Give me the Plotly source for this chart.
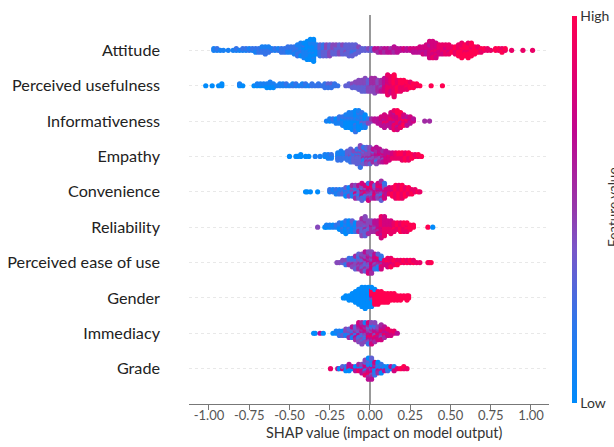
import plotly.graph_objects as go

features = ["Attitude", "Perceived usefulness", "Informativeness", "Empathy", "Convenience",
            "Reliability", "Perceived ease of use", "Gender", "Immediacy", "Grade"]
tick_values = [-1.0, -0.75, -0.5, -0.25, 0.0, 0.25, 0.5, 0.75, 1.0]
tick_labels = ["-1.00", "-0.75", "-0.50", "-0.25", "0.00", "0.25", "0.50", "0.75", "1.00"]

# Each entry: (SHAP value, one digit per dot = feature value level 0 (low) .. 9 (high))
attitude = [(-0.97,"11"),(-0.95,"12"),(-0.93,"1"),(-0.91,"1"),(-0.88,"1"),(-0.85,"1"),(-0.83,"12"),(-0.81,"1"),
    (-0.79,"12"),(-0.77,"12"),(-0.75,"21"),(-0.73,"12"),(-0.71,"121"),(-0.69,"122"),(-0.67,"1221"),
    (-0.65,"12212"),(-0.63,"1221"),(-0.61,"21"),(-0.59,"12"),(-0.57,"21"),(-0.55,"122"),(-0.53,"122"),
    (-0.51,"1212"),(-0.49,"1212"),(-0.47,"12221"),(-0.45,"1212212"),(-0.43,"11212101"),
    (-0.41,"101012101"),(-0.39,"00101010100"),(-0.37,"010010010100"),(-0.35,"0100100101100"),
    (-0.33,"010101"),(-0.31,"2323232"),(-0.29,"3232323"),(-0.27,"3434343"),(-0.25,"3343434"),
    (-0.23,"343434"),(-0.21,"433334"),(-0.19,"334343"),(-0.17,"333334"),(-0.15,"334333"),
    (-0.13,"2333333"),(-0.11,"3323233"),(-0.09,"332333"),(-0.07,"3334"),(-0.05,"33"),(-0.03,"33"),
    (-0.01,"34"),(0.01,"33"),(0.03,"56"),(0.05,"565"),(0.07,"656"),(0.09,"565"),(0.11,"566"),(0.13,"656"),
    (0.15,"5656"),(0.17,"666"),(0.19,"66"),(0.21,"67"),(0.23,"66"),(0.25,"67"),(0.27,"676"),(0.29,"676"),
    (0.31,"7767"),(0.33,"77677"),(0.35,"776767"),(0.37,"6777767677"),(0.39,"7787777787"),
    (0.41,"788777877"),(0.43,"787878"),(0.45,"788878"),(0.47,"878788"),(0.49,"887888"),
    (0.51,"8898"),(0.53,"89898"),(0.55,"8898989"),(0.57,"989998989"),(0.59,"9989999"),
    (0.61,"998999989"),(0.63,"99989999"),(0.65,"99999"),(0.67,"9998"),(0.69,"898"),(0.71,"89"),
    (0.73,"88"),(0.75,"8"),(0.78,"99"),(0.8,"89"),(0.82,"989"),(0.84,"89"),(0.88,"8"),(0.95,"8"),(1.01,"8")]

usefulness = [(-1.02,"0"),(-0.98,"0"),(-0.94,"0"),(-0.92,"00"),(-0.81,"01"),(-0.79,"0"),(-0.72,"0"),(-0.7,"01"),
    (-0.68,"01"),(-0.66,"01"),(-0.64,"010"),(-0.62,"0101"),(-0.6,"010"),(-0.58,"1"),(-0.56,"11"),
    (-0.54,"11"),(-0.52,"12"),(-0.5,"1"),(-0.48,"21"),(-0.46,"12"),(-0.44,"1"),(-0.42,"21"),(-0.4,"12"),
    (-0.38,"1"),(-0.36,"22"),(-0.34,"2"),(-0.32,"22"),(-0.3,"2"),(-0.28,"222"),(-0.26,"232"),(-0.24,"232"),
    (-0.22,"22"),(-0.2,"2"),(-0.15,"3"),(-0.13,"33"),(-0.11,"343"),(-0.09,"3334"),(-0.07,"343434"),
    (-0.05,"3434343"),(-0.03,"34343434"),(-0.01,"4343434"),(0.01,"45454545"),(0.03,"454545454"),
    (0.05,"5454545"),(0.07,"4545556"),(0.09,"56767676"),(0.11,"788787878788"),(0.13,"8788887878"),
    (0.15,"8989898989898"),(0.17,"9898989"),(0.19,"8989898"),(0.21,"898989"),(0.23,"98998"),(0.25,"8998"),
    (0.27,"899"),(0.29,"89"),(0.31,"9"),(0.38,"9"),(0.45,"9")]

informativeness = [(-0.27,"1"),(-0.25,"01"),(-0.23,"12"),(-0.21,"101"),(-0.19,"1212"),(-0.17,"10121"),
    (-0.15,"0102010"),(-0.13,"01020101"),(-0.11,"010201010"),(-0.09,"01012010102"),(-0.07,"0201010201"),
    (-0.05,"21320102"),(-0.03,"2030201"),(-0.01,"324"),(0.01,"45"),(0.03,"66"),(0.05,"566"),(0.07,"67676"),
    (0.09,"7687676"),(0.11,"67876"),(0.13,"78686767"),(0.15,"7867878688"),(0.17,"8787876979"),
    (0.19,"98687989"),(0.21,"798697"),(0.23,"79866"),(0.25,"6767"),(0.27,"76"),(0.34,"5"),(0.37,"5")]

empathy = [(-0.5,"0"),(-0.46,"0"),(-0.45,"0"),(-0.43,"00"),(-0.4,"0"),(-0.38,"0"),(-0.34,"1"),(-0.31,"1"),
    (-0.28,"01"),(-0.26,"011"),(-0.24,"121"),(-0.2,"01212"),(-0.18,"212121"),(-0.16,"2121"),(-0.14,"232323"),
    (-0.12,"34232323"),(-0.1,"3232343"),(-0.08,"343234323"),(-0.06,"3432343234342"),(-0.04,"3454231432"),
    (-0.02,"3454345243"),(0,"5454345434"),(0.02,"56454356"),(0.04,"4656452546"),(0.06,"56474656"),
    (0.08,"6567456"),(0.1,"7676767"),(0.12,"78767"),(0.14,"8787"),(0.16,"7888"),(0.18,"8989"),(0.2,"89898"),
    (0.22,"98989"),(0.24,"99898"),(0.26,"899"),(0.28,"98"),(0.3,"89"),(0.32,"9")]

convenience = [(-0.4,"0"),(-0.39,"0"),(-0.37,"0"),(-0.325,"0"),(-0.25,"12"),(-0.23,"21"),(-0.21,"121"),
    (-0.19,"012"),(-0.17,"123"),(-0.15,"01230"),(-0.13,"32104"),(-0.11,"342315"),(-0.09,"4371345"),
    (-0.07,"5234163"),(-0.05,"475364273"),(-0.03,"5684372"),(-0.01,"465738527"),(0.01,"65473857"),
    (0.03,"5674836"),(0.05,"47563847"),(0.07,"5647285735"),(0.09,"76548372"),(0.1,"876"),(0.12,"6787"),
    (0.14,"87989"),(0.16,"8989898"),(0.18,"9898989"),(0.2,"8989898"),(0.22,"98989"),(0.24,"8989"),
    (0.26,"989"),(0.28,"88"),(0.3,"9"),(0.31,"8")]

reliability = [(-0.325,"4"),(-0.28,"0"),(-0.27,"01"),(-0.25,"01"),(-0.23,"10"),(-0.21,"12"),(-0.19,"0102"),
    (-0.17,"10201"),(-0.15,"0201020"),(-0.13,"102010"),(-0.11,"010203"),(-0.09,"30102"),(-0.07,"34345"),
    (-0.05,"343434354"),(-0.03,"4354353434"),(-0.01,"5434345"),(0.01,"565454"),(0.03,"454656"),
    (0.05,"5676567"),(0.07,"78787878687"),(0.09,"8787878787"),(0.11,"878787"),(0.13,"8787878"),(0.15,"78988"),
    (0.17,"8989"),(0.19,"98989"),(0.21,"89898"),(0.23,"98998"),(0.25,"999"),(0.27,"99"),(0.36,"9"),(0.39,"0")]

ease = [(-0.205,"4"),(-0.19,"4"),(-0.17,"34"),(-0.15,"342"),(-0.13,"4352"),(-0.11,"43524"),(-0.09,"5342453"),
    (-0.07,"34534253"),(-0.05,"435345345"),(-0.03,"5436345436"),(-0.01,"56453645647"),(0.01,"65746573645"),
    (0.03,"67465726"),(0.05,"46572813"),(0.07,"7651827"),(0.09,"787"),(0.11,"89787"),(0.13,"98789"),
    (0.15,"898"),(0.17,"989"),(0.19,"98"),(0.21,"89"),(0.23,"98"),(0.25,"89"),(0.27,"98"),(0.29,"8"),(0.31,"8"),
    (0.36,"9"),(0.37,"8"),(0.38,"9")]

gender = [(-0.165,"0"),(-0.15,"00"),(-0.13,"000"),(-0.11,"0000"),(-0.09,"000000"),(-0.07,"00000000"),
    (-0.05,"0000000000"),(-0.03,"00000000000"),(-0.01,"0000000000"),(0.01,"0649090900"),(0.03,"99999990"),
    (0.05,"9999999"),(0.07,"999999"),(0.09,"99999"),(0.11,"99999"),(0.13,"9999"),(0.15,"9999"),(0.17,"999"),
    (0.19,"999"),(0.21,"99"),(0.23,"999"),(0.24,"99")]

immediacy = [(-0.35,"0"),(-0.34,"0"),(-0.31,"6"),(-0.29,"0"),(-0.23,"0"),(-0.21,"01"),(-0.19,"012"),(-0.17,"103"),
    (-0.15,"2414"),(-0.13,"14235"),(-0.11,"425316"),(-0.09,"3524635"),(-0.07,"5364253647"),
    (-0.05,"46352746354"),(-0.03,"5647352641"),(-0.01,"75648365472"),(0.01,"64758361547"),
    (0.03,"5746837254"),(0.05,"7685647"),(0.07,"67584675"),(0.09,"768756"),(0.11,"7678"),(0.13,"687"),
    (0.15,"78"),(0.17,"6")]

grade = [(-0.245,"8"),(-0.2,"6"),(-0.19,"0"),(-0.17,"73"),(-0.15,"820"),(-0.13,"8706"),(-0.11,"06"),
    (-0.09,"706"),(-0.07,"6085"),(-0.05,"51746"),(-0.03,"56175384"),(-0.01,"45617283506"),(0.01,"16507241536"),
    (0.03,"1605172"),(0.05,"016250"),(0.07,"10620"),(0.09,"016"),(0.11,"102"),(0.13,"06"),(0.15,"017"),
    (0.17,"8"),(0.19,"9"),(0.21,"89"),(0.23,"8")]

rows = [attitude, usefulness, informativeness, empathy, convenience,
        reliability, ease, gender, immediacy, grade]

colorscale = [[0.0, "#008bfb"], [0.2, "#2c77ec"], [0.4, "#7a55c8"], [0.5, "#9538ab"],
              [0.7, "#c0068f"], [0.85, "#e2006e"], [1.0, "#ff0051"]]

ROW_HEIGHT = 0.4
LEVELS = 9
xs, ys, cs = [], [], []
for i, row in enumerate(rows):
    base = len(rows) - 1 - i
    peak = max(len(d) for _, d in row)
    half = (peak // 2) + 1
    for x, digits in row:
        for layer, d in enumerate(digits):
            offset = ((layer + 1) // 2) * (1 if layer % 2 else -1)
            xs.append(x)
            ys.append(base + offset * 0.9 * ROW_HEIGHT / half)
            cs.append(int(d) / LEVELS)

fig = go.Figure(go.Scatter(
    x=xs, y=ys, mode="markers", hoverinfo="skip",
    marker=dict(size=5.2, color=cs, colorscale=colorscale, cmin=0, cmax=1, line=dict(width=0),
                colorbar=dict(thickness=5, lenmode="fraction", len=0.995, x=1.064, xanchor="left",
                              y=0.003, yanchor="bottom", xpad=0, ypad=0, outlinewidth=0,
                              tickvals=[0, 1], ticktext=["Low", "High"], ticks="", ticklabelposition="outside",
                              tickfont=dict(family="Lato", size=14, color="#333333"))),
))

fig.update_layout(
    width=614, height=447, margin=dict(l=189, r=65, t=15, b=43, autoexpand=False),
    paper_bgcolor="white", plot_bgcolor="white", showlegend=False,
    font=dict(family="Lato", color="#222222"),
    xaxis=dict(range=[-1.124, 1.112], tickvals=tick_values, ticktext=tick_labels, ticks="outside", ticklen=5,
               tickwidth=1, tickcolor="#777777", tickfont=dict(size=13, color="#555555"), ticklabelstandoff=-6,
               showgrid=False, zeroline=True, zerolinecolor="#999999", zerolinewidth=1.5,
               showline=True, linecolor="#777777", linewidth=1),
    yaxis=dict(range=[-1, 10], tickvals=list(range(len(features) - 1, -1, -1)), ticktext=features,
               tickfont=dict(size=16.2, color="#222222"), ticks="", ticklabelstandoff=28,
               showgrid=True, gridcolor="#e8e8e8", griddash="dot", gridwidth=0.6,
               zeroline=False, showline=False),
    annotations=[
        dict(text="Feature value", textangle=-90, xref="paper", yref="paper", x=1.176, y=0.505,
             xanchor="center", yanchor="middle", showarrow=False, font=dict(size=13.5, color="#333333")),
        dict(text="SHAP value (impact on model output)", xref="paper", yref="paper", x=0.542, y=-0.0745,
             xanchor="center", yanchor="middle", showarrow=False, font=dict(size=14.4, color="#333333")),
    ],
)

fig.write_html("out.html", config={"displayModeBar": False},
               post_script="document.body.style.margin='0';document.documentElement.style.overflow='hidden';")
